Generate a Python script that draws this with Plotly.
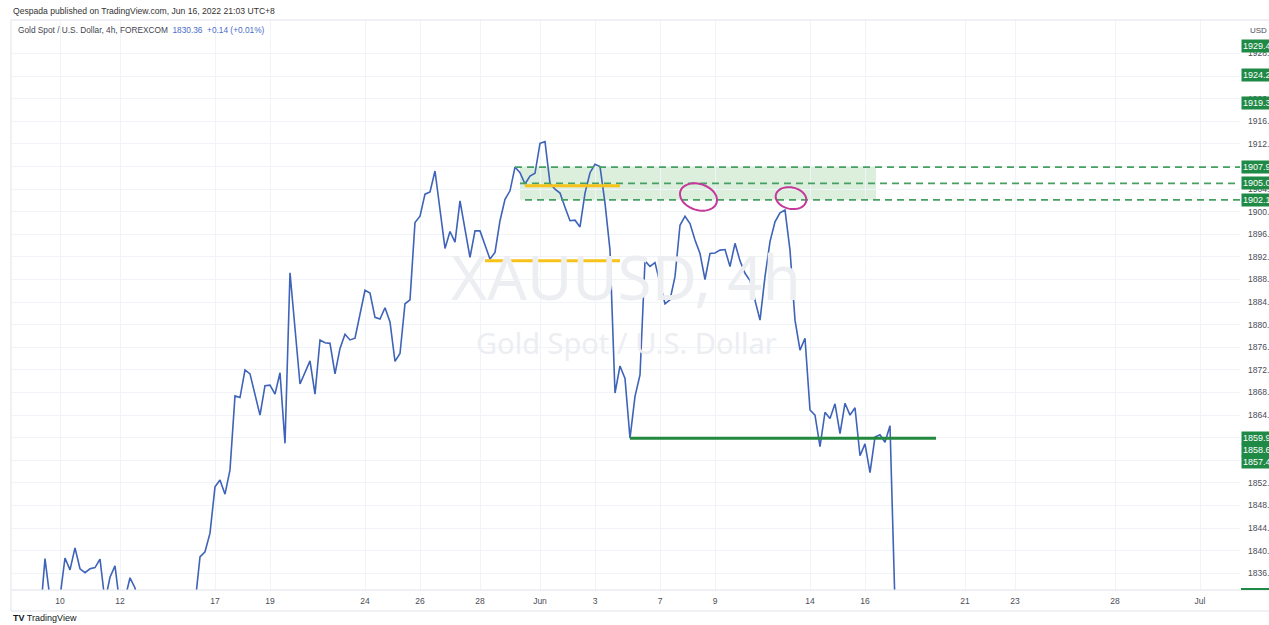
import math
import plotly.graph_objects as go

# ---------------- data ----------------
# 4h bar index (weekend gaps removed) and close price, XAUUSD
bar_idx = [0, 1, 2, 3, 4, 5, 6, 7, 8, 9, 10, 11, 12, 13, 14, 15, 16, 17, 18, 19,
           20, 21, 22, 23, 24, 25, 26, 27, 28, 29, 30, 31, 32, 33, 34, 35, 36, 37,
           38, 39, 40, 41, 42, 43, 44, 45, 46, 47, 48, 50, 51, 52, 53, 54, 55, 56,
           57, 58, 60, 61, 62, 63, 64, 65, 66, 67, 68, 69, 71, 72, 73, 74, 75, 76,
           77, 78, 79, 80, 81, 82, 83, 84, 85, 86, 87, 88, 89, 90, 91, 92, 93, 94,
           95, 96, 97, 98, 99, 100, 101, 102, 103, 104, 105, 106, 107, 108, 109,
           110, 111, 112, 113, 114, 115, 116, 117, 118, 119, 120, 121, 122, 123,
           124, 125, 126, 127, 128, 129, 130, 131, 132, 133, 134, 135, 136, 137,
           138, 139, 140, 141, 142, 143, 144, 145, 146, 147, 148, 149, 150, 151,
           152, 153, 154, 155, 156, 157, 158, 159, 160, 161, 162, 163, 164, 165,
           166, 167, 168, 169, 170, 171, 172, 173, 174, 175, 176, 177]
close = [1826.5, 1829.0, 1827.2, 1830.4, 1828.1, 1830.0, 1828.0, 1838.6, 1831.5, 1829.0,
         1831.8, 1838.7, 1836.6, 1840.5, 1836.8, 1836.1, 1836.8, 1837.0, 1838.5, 1831.0,
         1835.3, 1837.3, 1830.2, 1831.5, 1835.2, 1833.4, 1829.0, 1826.0, 1822.5, 1819.0,
         1816.0, 1813.5, 1811.0, 1814.0, 1819.0, 1825.0, 1829.0, 1830.5,
         1838.9, 1839.8, 1843.1, 1851.3, 1852.5, 1850.0, 1854.3, 1867.4, 1867.1, 1872.0,
         1871.3, 1864.0, 1869.2, 1869.3, 1867.7, 1871.5, 1859.0, 1889.2,
         1879.6, 1869.5, 1873.6, 1867.7, 1877.3, 1876.8, 1876.7, 1871.3, 1875.8, 1878.3,
         1877.3, 1877.6, 1886.1, 1885.6, 1881.3, 1881.0, 1883.0, 1880.5,
         1873.5, 1874.9, 1883.7, 1884.4, 1898.1, 1899.2, 1903.1, 1903.5, 1907.2, 1900.3,
         1893.5, 1896.5, 1894.6, 1901.9, 1896.8, 1891.9, 1896.6, 1896.6,
         1894.1, 1891.6, 1892.8, 1898.4, 1902.2, 1903.7, 1907.9, 1906.9, 1904.9, 1906.3,
         1906.8, 1912.1, 1912.4, 1905.0, 1904.0,
         1903.3, 1900.8, 1898.4, 1898.5, 1897.3, 1903.3, 1906.9, 1908.4, 1908.0, 1901.5,
         1893.2, 1867.9, 1872.7, 1870.5,
         1859.9, 1867.3, 1871.1, 1891.3, 1890.3, 1891.0, 1887.3, 1883.7, 1884.4, 1888.5,
         1897.6, 1899.2, 1897.9, 1895.0,
         1892.6, 1888.0, 1892.6, 1892.7, 1893.2, 1893.3, 1890.3, 1894.4, 1891.3, 1889.1,
         1887.8, 1884.4, 1880.8, 1888.5,
         1894.7, 1898.2, 1899.8, 1900.3, 1893.2, 1880.8, 1875.5, 1877.6, 1864.9, 1864.0,
         1858.4, 1864.5, 1863.4, 1866.0,
         1860.7, 1866.1, 1864.0, 1865.3, 1856.8, 1858.9, 1853.8, 1860.1, 1860.5, 1859.2,
         1862.1, 1830.36]

tick_bars = [10, 22, 41, 52, 71, 82, 94, 106, 117, 130, 141, 160, 171, 191, 201, 221, 238]
tick_text = ["10", "12", "17", "19", "24", "26", "28", "Jun", "3", "7", "9",
             "14", "16", "21", "23", "28", "Jul"]
price_ticks = list(range(1836, 1929, 4))

# drawings (bar index / price)
zone_bars = [102, 173.2]
zone_prices = [1902.1, 1907.9]
dash_prices = [1907.9, 1905.0, 1902.1]
dash_start = [101, 102, 103]
yellow_prices = [1904.6, 1891.3]
yellow_start = [103, 95]
yellow_end = [122, 122]
support_price = 1859.9
support_bars = [124, 185.2]
ellipse_center_bars = [137.7, 156.2]
ellipse_center_prices = [1902.6, 1902.4]
ellipse_radius_bars = [3.8, 3.1]
ellipse_radius_prices = [2.3, 1.9]
ellipse_tilt_deg = [18, 12]
label_prices = [1929.4, 1924.2, 1919.3, 1907.9, 1905.0, 1902.1]
stack_labels = ["1859.9", "1858.6", "1857.4"]

x_range = [0.4, 246.0]
y_range = [1833.04, 1933.93]

# ---------------- layout geometry ----------------
W, H = 1269, 625
ML, MR, MT, MB = 12, W - 1240, 20, H - 590
PW, PH = W - ML - MR, H - MT - MB
PX_PER_BAR = PW / (x_range[1] - x_range[0])
PX_PER_USD = PH / (y_range[1] - y_range[0])


def xp(px):
    return (px - ML) / PW


def yp(py):
    return (H - MB - py) / PH


def tilted_ellipse(cx, cy, rxb, ryp, deg):
    # rotate in screen space so the tilt looks right, expressed in data units
    a = math.radians(deg)
    rx, ry = rxb * PX_PER_BAR, ryp * PX_PER_USD
    pts = []
    for k in range(49):
        t = 2 * math.pi * k / 48
        ex, ey = rx * math.cos(t), ry * math.sin(t)
        sx = ex * math.cos(a) - ey * math.sin(a)
        sy = ex * math.sin(a) + ey * math.cos(a)
        pts.append((cx + sx / PX_PER_BAR, cy - sy / PX_PER_USD))
    return "M " + " L ".join("%.4f,%.4f" % p for p in pts) + " Z"


GREEN = "#1f8a46"
LINE = "#3e63b8"
GRID = "#f0f3f8"
BORDER = "#e0e3eb"
TXT = "#4a4d57"

fig = go.Figure()
fig.add_trace(go.Scatter(x=bar_idx, y=close, mode="lines",
                         line=dict(color=LINE, width=1.6),
                         hoverinfo="skip", showlegend=False))

shapes = []
shapes.append(dict(type="rect", xref="x", yref="y", x0=zone_bars[0], x1=zone_bars[1],
                   y0=zone_prices[0], y1=zone_prices[1],
                   fillcolor="rgba(76,175,80,0.2)", line=dict(width=0), layer="below"))
for p, s in zip(dash_prices, dash_start):
    shapes.append(dict(type="line", xref="x", yref="y", x0=s, x1=x_range[1], y0=p, y1=p,
                       line=dict(color="#45a061", width=1.8, dash="7px,5px")))
for p, s, e in zip(yellow_prices, yellow_start, yellow_end):
    shapes.append(dict(type="line", xref="x", yref="y", x0=s, x1=e, y0=p, y1=p,
                       line=dict(color="#f7c31a", width=3)))
shapes.append(dict(type="line", xref="x", yref="y", x0=support_bars[0], x1=support_bars[1],
                   y0=support_price, y1=support_price,
                   line=dict(color="#23893f", width=3)))
for cx, cy, rx, ry, d in zip(ellipse_center_bars, ellipse_center_prices,
                             ellipse_radius_bars, ellipse_radius_prices, ellipse_tilt_deg):
    shapes.append(dict(type="path", xref="x", yref="y", path=tilted_ellipse(cx, cy, rx, ry, d),
                       line=dict(color="#c4399a", width=2)))
# frame lines
shapes.append(dict(type="line", xref="paper", yref="paper", x0=xp(11), x1=xp(W + 5),
                   y0=yp(611), y1=yp(611), line=dict(color=BORDER, width=1)))
shapes.append(dict(type="line", xref="paper", yref="paper", x0=xp(11), x1=xp(11),
                   y0=yp(20), y1=yp(611), line=dict(color=BORDER, width=1)))
shapes.append(dict(type="line", xref="paper", yref="paper", x0=xp(11), x1=xp(W + 5),
                   y0=yp(20), y1=yp(20), line=dict(color=BORDER, width=1)))
shapes.append(dict(type="line", xref="paper", yref="paper", x0=xp(11), x1=xp(W + 5),
                   y0=yp(590), y1=yp(590), line=dict(color=BORDER, width=1)))
shapes.append(dict(type="line", xref="paper", yref="paper", x0=xp(1241), x1=xp(W + 5),
                   y0=yp(589), y1=yp(589), line=dict(color=GREEN, width=2)))

annotations = []
for p in label_prices:
    annotations.append(dict(xref="paper", yref="y", x=xp(1241), y=p, xanchor="left",
                            yanchor="middle", text="%.1f" % p, showarrow=False,
                            font=dict(family="Liberation Sans, Arial", size=9, color="white"),
                            bgcolor=GREEN, borderpad=1, width=40, align="left"))
for i, t in enumerate(stack_labels):
    annotations.append(dict(xref="paper", yref="y", x=xp(1241), y=support_price,
                            yshift=-12 * i, xanchor="left", yanchor="middle", text=t,
                            showarrow=False,
                            font=dict(family="Liberation Sans, Arial", size=9, color="white"),
                            bgcolor=GREEN, borderpad=1, width=40, align="left"))
annotations.append(dict(xref="paper", yref="paper", x=xp(1248), y=yp(30), xanchor="left",
                        yanchor="middle", text="USD", showarrow=False,
                        font=dict(family="Liberation Sans, Arial", size=8, color=TXT)))
# watermark
annotations.append(dict(xref="paper", yref="paper", x=0.5, y=yp(276), xanchor="center",
                        yanchor="middle", text="XAUUSD, 4h", showarrow=False,
                        font=dict(family="Noto Sans", size=62, color="#eceef2")))
annotations.append(dict(xref="paper", yref="paper", x=0.5, y=yp(342), xanchor="center",
                        yanchor="middle", text="Gold Spot / U.S. Dollar", showarrow=False,
                        font=dict(family="Noto Sans", size=29, color="#eceef2")))
# header
annotations.append(dict(xref="paper", yref="paper", x=xp(11), y=yp(11), xanchor="left",
                        yanchor="middle",
                        text="Qespada published on TradingView.com, Jun 16, 2022 21:03 UTC+8",
                        showarrow=False,
                        font=dict(family="Liberation Sans, Arial", size=8.6, color="#333333")))
annotations.append(dict(xref="paper", yref="paper", x=xp(16), y=yp(30), xanchor="left",
                        yanchor="middle",
                        text="Gold Spot / U.S. Dollar, 4h, FOREXCOM  "
                             "<span style='color:#4a6cc9'>1830.36  +0.14 (+0.01%)</span>",
                        showarrow=False,
                        font=dict(family="Liberation Sans, Arial", size=8.3, color="#434651")))
# footer
annotations.append(dict(xref="paper", yref="paper", x=xp(11), y=yp(618), xanchor="left",
                        yanchor="middle",
                        text="<b>TV</b> TradingView", showarrow=False,
                        font=dict(family="Liberation Sans, Arial", size=9, color="#131722")))

fig.update_layout(
    width=W, height=H,
    margin=dict(l=ML, r=MR, t=MT, b=MB, pad=0),
    paper_bgcolor="white", plot_bgcolor="white",
    shapes=shapes, annotations=annotations,
    showlegend=False,
    xaxis=dict(range=x_range, tickmode="array", tickvals=tick_bars, ticktext=tick_text,
               showgrid=True, gridcolor=GRID, gridwidth=1, zeroline=False,
               showline=False, ticks="", automargin=False,
               tickfont=dict(family="Liberation Sans, Arial", size=8.5, color=TXT),
               ticklabelstandoff=4),
    yaxis=dict(range=y_range, side="right", tickmode="array", tickvals=price_ticks,
               tickformat=".1f", showgrid=True, gridcolor=GRID, gridwidth=1,
               zeroline=False, showline=False, ticks="", automargin=False,
               tickfont=dict(family="Liberation Sans, Arial", size=8.5, color=TXT),
               ticklabelstandoff=7),
)

fig.write_html("out.html", config={"displayModeBar": False},
               post_script="document.body.style.margin='0';document.body.style.overflow='hidden';")
